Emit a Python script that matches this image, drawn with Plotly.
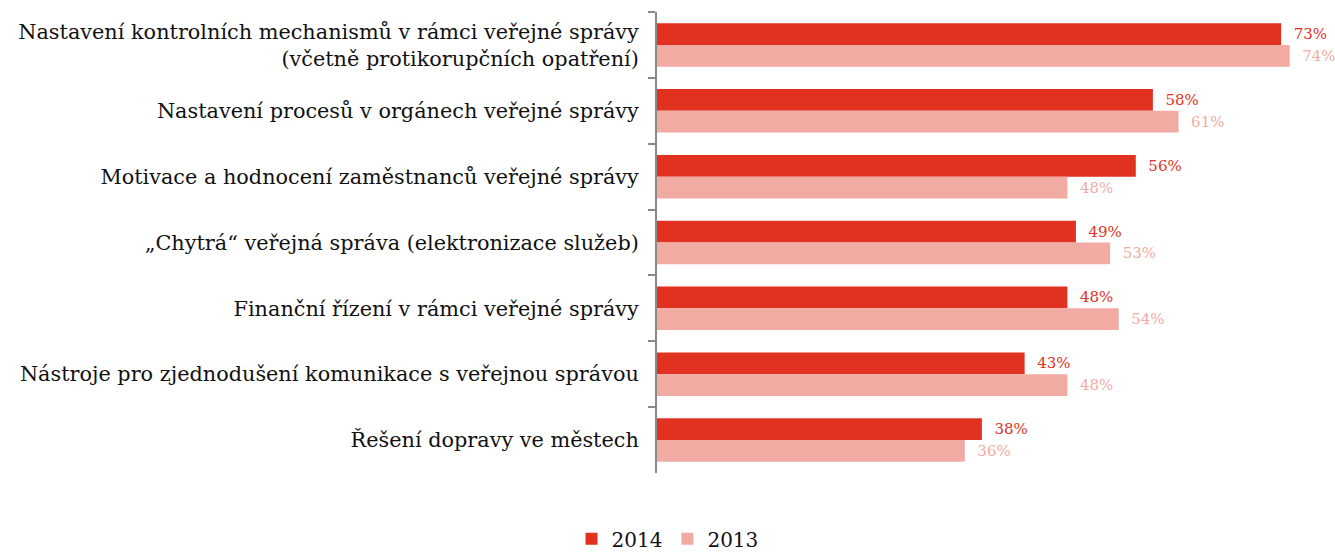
import plotly.graph_objects as go

categories = [
    "Nastavení kontrolních mechanismů v rámci veřejné správy<br>(včetně protikorupčních opatření)",
    "Nastavení procesů v orgánech veřejné správy",
    "Motivace a hodnocení zaměstnanců veřejné správy",
    "„Chytrá“ veřejná správa (elektronizace služeb)",
    "Finanční řízení v rámci veřejné správy",
    "Nástroje pro zjednodušení komunikace s veřejnou správou",
    "Řešení dopravy ve městech",
]
values_2014 = [73, 58, 56, 49, 48, 43, 38]
values_2013 = [74, 61, 48, 53, 54, 48, 36]

RED = "#E03121"
PINK = "#F2ABA3"
FONT = "DejaVu Serif"
PAD = "\u00a0\u00a0"

fig = go.Figure()
for name, vals, col in [("2014", values_2014, RED), ("2013", values_2013, PINK)]:
    fig.add_trace(go.Bar(
        name=name,
        y=categories,
        x=vals,
        orientation="h",
        marker=dict(color=col, line=dict(width=0)),
        text=[f"{PAD}{v}%" for v in vals],
        textposition="outside",
        textfont=dict(family=FONT, size=15, color=col),
        cliponaxis=False,
    ))

fig.update_layout(
    width=1335,
    height=552,
    margin=dict(l=657, r=0, t=12, b=79),
    barmode="group",
    bargap=0.34,
    bargroupgap=0,
    plot_bgcolor="white",
    paper_bgcolor="white",
    font=dict(family=FONT, size=20, color="#111111"),
    showlegend=True,
    legend=dict(
        orientation="h",
        xref="container",
        x=0.5, xanchor="center",
        yref="container",
        y=0.024, yanchor="middle",
        font=dict(family=FONT, size=20, color="#111111"),
        itemwidth=30,
        traceorder="normal",
    ),
)
fig.update_xaxes(
    range=[0, 79.3],
    visible=False,
    showgrid=False,
    zeroline=False,
)
fig.update_yaxes(
    autorange="reversed",
    showline=True,
    linecolor="#888888",
    linewidth=2,
    ticks="outside",
    tickson="boundaries",
    ticklen=7,
    tickwidth=2,
    tickcolor="#888888",
    ticklabelstandoff=12,
    showgrid=False,
    tickfont=dict(family=FONT, size=20.8, color="#111111"),
)

fig.write_html("out.html")
